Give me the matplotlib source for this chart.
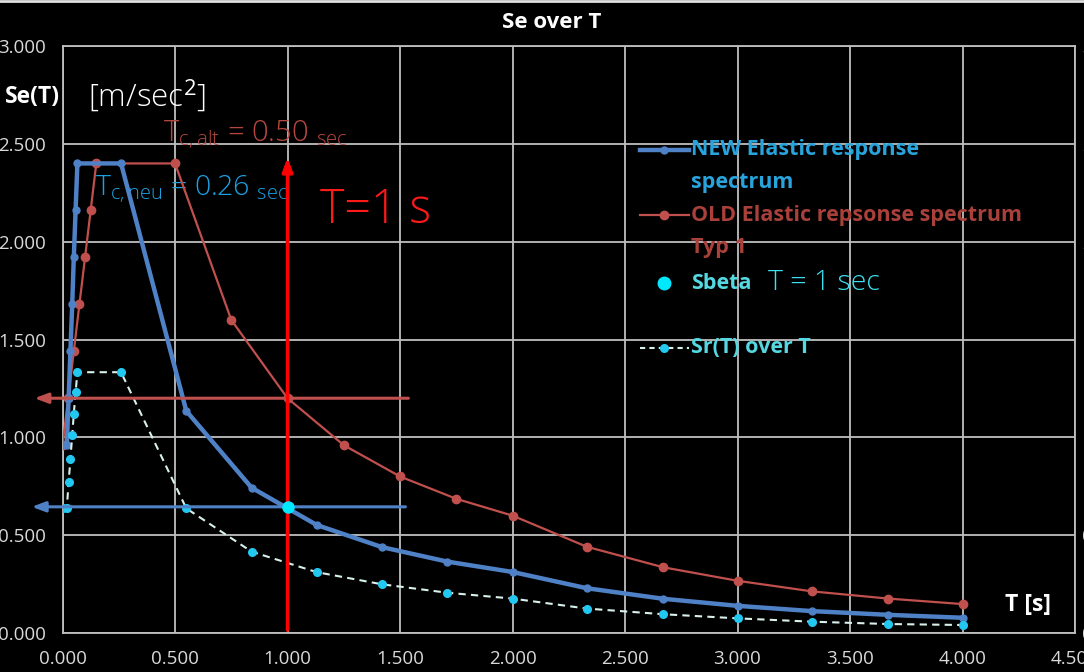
import matplotlib
matplotlib.use("Agg")
import matplotlib.pyplot as plt
from matplotlib.lines import Line2D

# Elastic response spectra (Se in m/sec^2 over period T in s)
T_new = [0.0, 0.019, 0.027, 0.035, 0.043, 0.050, 0.058, 0.066, 0.26, 0.55, 0.84,
         1.13, 1.42, 1.71, 2.0, 2.33, 2.67, 3.0, 3.33, 3.67, 4.0]
Se_new = [0.96, 0.96, 1.20, 1.44, 1.68, 1.92, 2.16, 2.40, 2.40, 1.135, 0.743,
          0.552, 0.439, 0.365, 0.312, 0.229, 0.175, 0.139, 0.112, 0.093, 0.078]
Sr_new = [0.64, 0.64, 0.77, 0.89, 1.01, 1.12, 1.23, 1.333, 1.333, 0.637, 0.416,
          0.311, 0.249, 0.206, 0.176, 0.125, 0.096, 0.075, 0.058, 0.046, 0.041]

T_old = [0.0, 0.025, 0.05, 0.075, 0.1, 0.125, 0.15, 0.5, 0.75, 1.0, 1.25, 1.5,
         1.75, 2.0, 2.33, 2.67, 3.0, 3.33, 3.67, 4.0]
Se_old = [0.96, 1.20, 1.44, 1.68, 1.92, 2.16, 2.40, 2.40, 1.60, 1.20, 0.96, 0.80,
          0.686, 0.60, 0.441, 0.336, 0.267, 0.213, 0.176, 0.148]

T_beta = 1.0
S_beta = 0.645

x_ticks = [0.0, 0.5, 1.0, 1.5, 2.0, 2.5, 3.0, 3.5, 4.0, 4.5]
y_ticks = [0.0, 0.5, 1.0, 1.5, 2.0, 2.5, 3.0]

C_NEW = "#4f81c7"
C_OLD = "#c0504d"
C_SR_LINE = "#d8f0ec"
C_SR_MK = "#22c8f0"
C_BETA = "#00e8ff"
C_GRID = "#bfbfbf"

plt.rcParams["font.family"] = ["Open Sans", "DejaVu Sans"]
plt.rcParams["mathtext.fontset"] = "custom"
plt.rcParams["mathtext.rm"] = "Open Sans"

fig = plt.figure(figsize=(10.84, 6.72), dpi=100, facecolor="black")
ax = fig.add_axes([0.0577, 0.058, 0.9340, 0.8735], facecolor="black")

ax.set_xlim(0, 4.5)
ax.set_ylim(0, 3.0)
ax.set_xticks(x_ticks)
ax.set_yticks(y_ticks)
ax.set_xticklabels([f"{v:.3f}" for v in x_ticks])
ax.set_yticklabels([f"{v:.3f}" for v in y_ticks])
ax.tick_params(axis="x", length=0, pad=12, labelsize=13.5, colors="#d9d9d9")
ax.tick_params(axis="y", length=0, pad=12, labelsize=13.5, colors="#d9d9d9")
ax.grid(True, color=C_GRID, lw=1.3)
for sp in ax.spines.values():
    sp.set_color(C_GRID)
    sp.set_linewidth(1.3)

# right axis, labels run off the edge of the figure
ax2 = ax.twinx()
ax2.set_ylim(0, 3.0)
ax2.set_yticks(y_ticks)
ax2.set_yticklabels([f"{v:.3f}" for v in y_ticks])
ax2.tick_params(axis="y", length=0, pad=5, labelsize=13.5, colors="#d9d9d9")
for sp in ax2.spines.values():
    sp.set_visible(False)

# spectra
ax.plot(T_old, Se_old, color=C_OLD, lw=1.6, marker="o", ms=6, zorder=4)
ax.plot(T_new, Se_new, color=C_NEW, lw=3.2, marker="o", ms=5, zorder=5)
ax.plot(T_new, Sr_new, color=C_SR_LINE, lw=1.5, ls=(0, (3.5, 2.5)),
        marker="o", ms=5.5, mfc=C_SR_MK, mec=C_SR_MK, zorder=5)
ax.plot([T_beta], [S_beta], "o", color=C_BETA, ms=8, zorder=7)

# guide arrows at T = 1 s
Se_old_1s = Se_old[T_old.index(T_beta)]
ax.annotate("", xy=(-0.125, Se_old_1s), xytext=(1.537, Se_old_1s),
            xycoords="data", annotation_clip=False, zorder=6,
            arrowprops=dict(arrowstyle="-|>,head_length=0.8,head_width=0.3",
                            color=C_OLD, lw=2.2, shrinkA=0, shrinkB=0))
ax.annotate("", xy=(-0.137, S_beta), xytext=(1.524, S_beta),
            xycoords="data", annotation_clip=False, zorder=6,
            arrowprops=dict(arrowstyle="-|>,head_length=0.8,head_width=0.3",
                            color=C_NEW, lw=2.2, shrinkA=0, shrinkB=0))
ax.annotate("", xy=(T_beta, 2.43), xytext=(T_beta, 0.015),
            xycoords="data", annotation_clip=False, zorder=6,
            arrowprops=dict(arrowstyle="-|>,head_length=0.8,head_width=0.3",
                            color="#ff0000", lw=2.6, shrinkA=0, shrinkB=0))

# title and axis captions
fig.text(0.509, 0.966, "Se over T", color="white", fontsize=16, fontweight="bold",
         ha="center", va="center")
ax.text(-0.256, 2.74, "Se(T)", color="white", fontsize=16.5, fontweight="bold",
        ha="left", va="center", clip_on=False)
ax.text(0.113, 2.74, r"[m/sec$^{2}$]", color="white", fontsize=22.5, fontweight="light",
        ha="left", va="center")
ax.text(4.19, 0.143, "T [s]", color="white", fontsize=16.5, fontweight="bold",
        ha="left", va="center")

ax.text(0.447, 2.55, r"$\mathregular{T_{c,alt}}$ = 0.50 $\mathregular{_{sec}}$",
        color="#b5473f", fontsize=21, fontweight="light", ha="left", va="center")
ax.text(0.144, 2.27, r"$\mathregular{T_{c,neu}}$ = 0.26 $\mathregular{_{sec}}$",
        color="#1ba1e2", fontsize=20.5, fontweight="light", ha="left", va="center")
ax.text(1.144, 2.16, "T=1 s", color="#ff1a1a", fontsize=33.5, fontweight="light",
        ha="left", va="center")

# legend drawn in axes fraction
tr = ax.transAxes
x0, x1, xt = 0.570, 0.619, 0.621
leg = [
    (0.823, ["NEW Elastic response", "spectrum"], "#28a3dc"),
    (0.712, ["OLD Elastic repsonse spectrum", "Typ 1"], "#a9403a"),
    (0.596, ["Sbeta"], "#55d8e2"),
    (0.486, ["Sr(T) over T"], "#55d8e2"),
]
ax.add_line(Line2D([x0, x1], [0.823, 0.823], color=C_NEW, lw=3.2, transform=tr, zorder=8))
ax.add_line(Line2D([(x0 + x1) / 2], [0.823], color=C_NEW, marker="o", ms=5, transform=tr, zorder=8))
ax.add_line(Line2D([x0, x1], [0.712, 0.712], color=C_OLD, lw=1.6, transform=tr, zorder=8))
ax.add_line(Line2D([(x0 + x1) / 2], [0.712], color=C_OLD, marker="o", ms=6, transform=tr, zorder=8))
ax.add_line(Line2D([(x0 + x1) / 2], [0.596], color=C_BETA, marker="o", ms=9, ls="none",
                   transform=tr, zorder=8))
ax.add_line(Line2D([x0, x1], [0.486, 0.486], color=C_SR_LINE, lw=1.5, ls=(0, (2.5, 2)),
                   transform=tr, zorder=8))
ax.add_line(Line2D([(x0 + x1) / 2], [0.486], color=C_SR_MK, marker="o", ms=5.5, ls="none",
                   transform=tr, zorder=8))
for y, lines, col in leg:
    for i, s in enumerate(lines):
        ax.text(xt, y - i * 0.056, s, color=col, fontsize=15.5, fontweight="bold",
                ha="left", va="center", transform=tr, zorder=9)
ax.text(0.697, 0.596, "T = 1 sec", color="#3ee0f0", fontsize=20.5, fontweight="light",
        ha="left", va="center", transform=tr, zorder=9)

# thin frame line along the top edge
fig.add_artist(Line2D([0, 1], [0.998, 0.998], color="#e0e0e0", lw=2, transform=fig.transFigure))

fig.savefig("out.png", dpi=100, facecolor="black")
